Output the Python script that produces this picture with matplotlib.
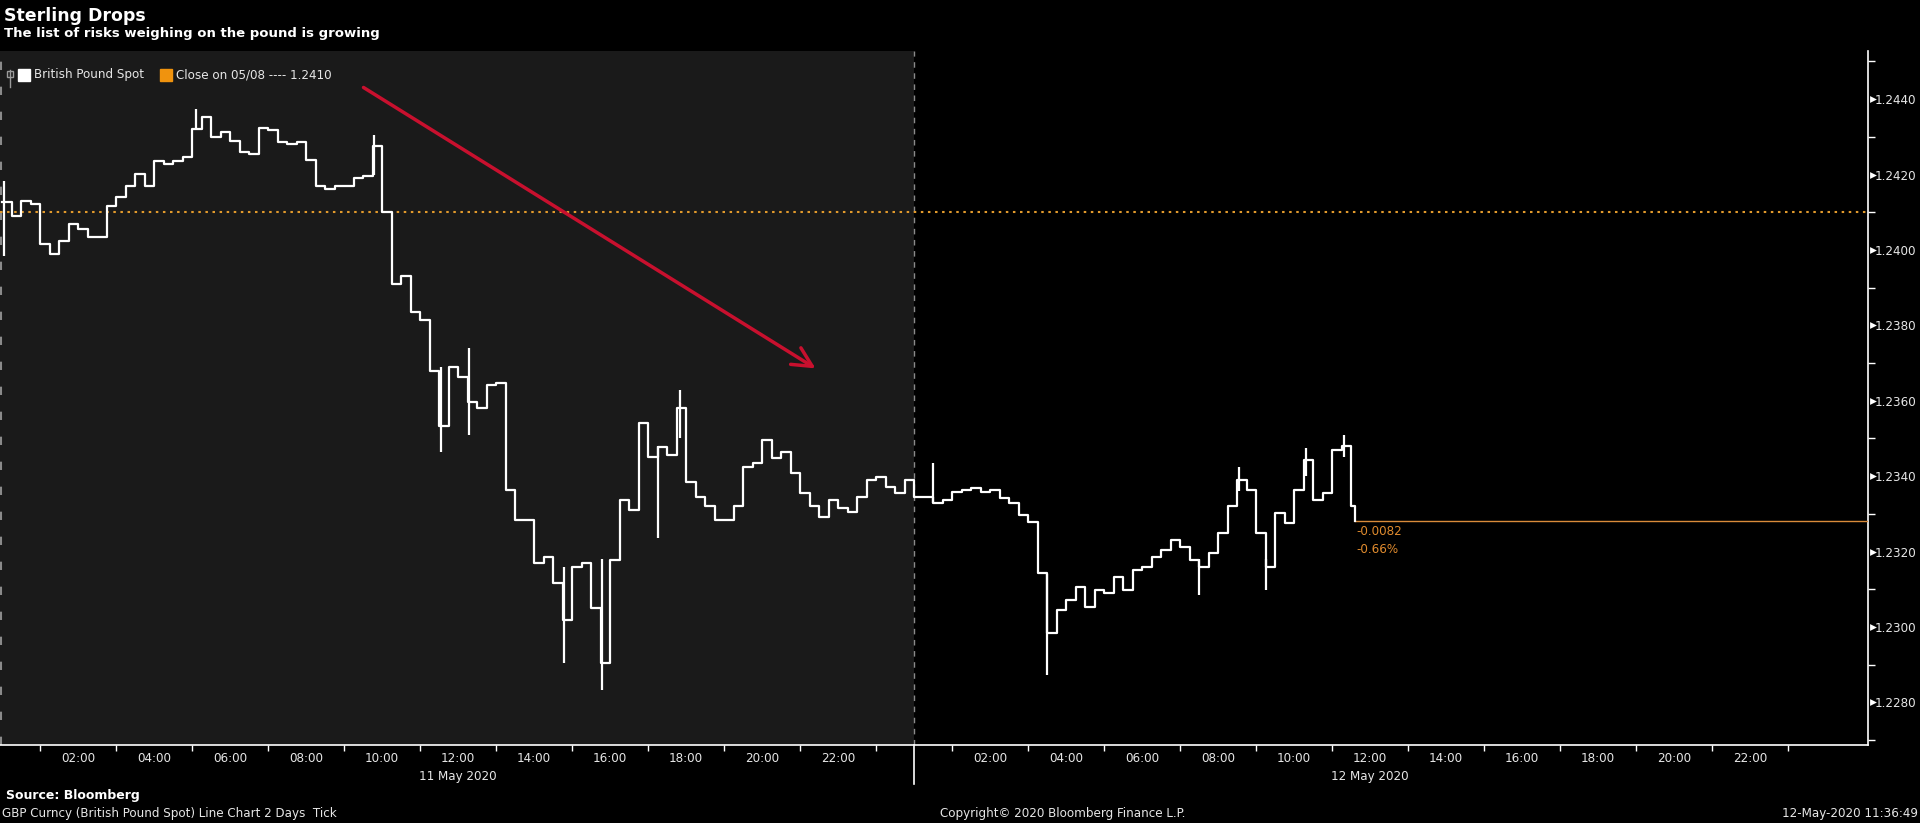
import numpy as np
import matplotlib
matplotlib.use("Agg")
import matplotlib.pyplot as plt
from matplotlib import font_manager
from matplotlib.font_manager import FontProperties
from matplotlib.transforms import blended_transform_factory
from matplotlib.patches import Rectangle, FancyArrowPatch

# ---------------- data ----------------
# 15-minute closes, 11 May 2020 00:00 -> 23:45
day1_close = [
    1.24127, 1.24091, 1.24131, 1.24122, 1.24016, 1.23989, 1.24025, 1.24069,
    1.24056, 1.24034, 1.24034, 1.24118, 1.24140, 1.24171, 1.24202, 1.24171,
    1.24237, 1.24228, 1.24237, 1.24246, 1.24321, 1.24352, 1.24299, 1.24312,
    1.24290, 1.24260, 1.24255, 1.24323, 1.24318, 1.24287, 1.24281, 1.24287,
    1.24239, 1.24171, 1.24161, 1.24171, 1.24171, 1.24192, 1.24197, 1.24276,
    1.24100, 1.23909, 1.23930, 1.23836, 1.23815, 1.23679, 1.23532, 1.23689,
    1.23664, 1.23598, 1.23580, 1.23642, 1.23646, 1.23363, 1.23284, 1.23284,
    1.23169, 1.23186, 1.23116, 1.23019, 1.23160, 1.23169, 1.23050, 1.22904,
    1.23178, 1.23337, 1.23310, 1.23540, 1.23452, 1.23478, 1.23456, 1.23580,
    1.23385, 1.23346, 1.23320, 1.23284, 1.23284, 1.23320, 1.23425, 1.23434,
    1.23496, 1.23447, 1.23465, 1.23408, 1.23355, 1.23320, 1.23292, 1.23337,
    1.23316, 1.23306, 1.23346, 1.23390, 1.23399, 1.23372, 1.23355, 1.23390,
]
# 15-minute closes, 12 May 2020 00:00 -> 11:30
day2_close = [
    1.23346, 1.23346, 1.23328, 1.23337, 1.23359, 1.23364, 1.23368, 1.23359,
    1.23364, 1.23341, 1.23328, 1.23297, 1.23279, 1.23142, 1.22983, 1.23045,
    1.23072, 1.23107, 1.23054, 1.23098, 1.23089, 1.23133, 1.23098, 1.23151,
    1.23160, 1.23186, 1.23204, 1.23231, 1.23213, 1.23178, 1.23160, 1.23195,
    1.23249, 1.23320, 1.23390, 1.23364, 1.23249, 1.23160, 1.23302, 1.23275,
    1.23364, 1.23443, 1.23337, 1.23355, 1.23470, 1.23479, 1.23320,
]
last_time_h = 35.6          # 12 May 11:36 in hours from 11 May 00:00
last_price = 1.2328
prev_close = 1.2410
net_change = "-0.0082"
pct_change = "-0.66%"

# intrabar extremes (hours from 11 May 00:00, low, high)
spike_time = [0.05, 5.1, 9.8, 11.55, 12.3, 14.8, 15.8, 17.25, 17.85, 24.5, 27.5, 31.5, 32.55, 33.25, 34.3, 35.3]
spike_low  = [1.23985, 1.2432, 1.2420, 1.23464, 1.2351, 1.22904, 1.22833, 1.23236, 1.2350, 1.2333, 1.22873, 1.23085, 1.2336, 1.23099, 1.2340, 1.2345]
spike_high = [1.24184, 1.24374, 1.24305, 1.2369, 1.2374, 1.2316, 1.2318, 1.2348, 1.23629, 1.23435, 1.2314, 1.2318, 1.23425, 1.2318, 1.23475, 1.2351]

xtick_labels = ["02:00", "04:00", "06:00", "08:00", "10:00", "12:00",
                "14:00", "16:00", "18:00", "20:00", "22:00"]
date_labels = ["11 May 2020", "12 May 2020"]
ytick_vals = [1.2280, 1.2300, 1.2320, 1.2340, 1.2360, 1.2380, 1.2400, 1.2420, 1.2440]

# ---------------- fonts ----------------
def find_narrow():
    prefs = ["LiberationSansNarrow-Regular", "DejaVuSansCondensed.ttf", "RobotoCondensed-Regular",
             "OpenSans_Condensed-Regular", "OpenSansCondensed", "NotoSans-Condensed",
             "Roboto_Condensed", "Condensed-Regular", "Narrow"]
    files = font_manager.findSystemFonts()
    for p in prefs:
        for f in files:
            base = f.split("/")[-1]
            if p in base and "Bold" not in base and "Italic" not in base and "Oblique" not in base:
                return f
    return None

nf = find_narrow()
if nf:
    NPROP = FontProperties(fname=nf, size=9.5)
else:
    NPROP = FontProperties(family="Liberation Sans", size=9)

def nprop():
    return NPROP.copy()

ORANGE_TXT = "#e08b2e"
TXT = "#e6e6e6"

# ---------------- figure ----------------
fig = plt.figure(figsize=(19.2, 8.23), dpi=100)
fig.patch.set_facecolor("black")
ax = fig.add_axes([0, 0.0948, 0.9729, 0.8433])
ax.set_facecolor("black")

xmin, xmax = -0.053, 49.1
ax.set_xlim(xmin, xmax)
ax.set_ylim(1.22687, 1.24528)

# first day shaded
ax.axvspan(xmin, 24, color="#1a1a1a", zorder=0, lw=0)
ax.axvline(24, color="#8a8a8a", lw=1, ls=(0, (4, 4)), zorder=1)
ax.axvline(xmin + 0.02, color="#8a8a8a", lw=1.5, ls=(0, (4, 8)), zorder=1)

# previous close dotted
ax.axhline(prev_close, color="#e29a2c", lw=1.5, ls=(0, (1.2, 2.2)), zorder=2)

# price series
t1 = np.arange(len(day1_close)) * 0.25
t2 = 24 + np.arange(len(day2_close)) * 0.25
times = np.concatenate([t1, t2, [last_time_h]])
vals = np.concatenate([day1_close, day2_close, [last_price]])
ax.vlines(spike_time, spike_low, spike_high, color="white", lw=1.6, zorder=3)
ax.plot(times, vals, color="white", lw=1.6, drawstyle="steps-post", zorder=4)

# last price line + change text
ax.plot([last_time_h, xmax], [last_price, last_price], color="#d98b3a", lw=1.0, zorder=3)
ax.text(last_time_h + 0.05, last_price - 0.00010, net_change, color=ORANGE_TXT,
        fontproperties=nprop(), va="top", ha="left")
ax.text(last_time_h + 0.05, last_price - 0.00056, pct_change, color=ORANGE_TXT,
        fontproperties=nprop(), va="top", ha="left")

# red arrow
arr = FancyArrowPatch((9.45, 1.24435), (21.47, 1.23682),
                      arrowstyle="->,head_length=0.7,head_width=0.35",
                      color="#c8102e", lw=2.5, zorder=5, mutation_scale=20)
ax.add_patch(arr)

# spines
for s in ["left", "top"]:
    ax.spines[s].set_visible(False)
ax.spines["right"].set_color("white")
ax.spines["bottom"].set_color("white")
ax.spines["right"].set_linewidth(1.2)
ax.spines["bottom"].set_linewidth(1.2)

# x ticks
major_x = [2 * i for i in range(1, 12)] + [24 + 2 * i for i in range(1, 12)]
ax.set_xticks(major_x)
ax.set_xticklabels(xtick_labels + xtick_labels)
ax.set_xticks([2 * i + 1 for i in range(24)], minor=True)
ax.tick_params(axis="x", which="major", length=0, pad=5, colors=TXT)
ax.tick_params(axis="x", which="minor", length=4, width=1, color="white", direction="out")
for lab in ax.get_xticklabels():
    lab.set_fontproperties(nprop())

xb = blended_transform_factory(ax.transData, ax.transAxes)
ax.text(12, -0.036, date_labels[0], transform=xb, ha="center", va="top",
        color=TXT, fontproperties=nprop())
ax.text(36, -0.036, date_labels[1], transform=xb, ha="center", va="top",
        color=TXT, fontproperties=nprop())
ax.plot([24, 24], [0, -0.056], transform=xb, color="white", lw=1.2, clip_on=False)

# y ticks on the right
ax.yaxis.tick_right()
ax.set_yticks(ytick_vals)
ax.set_yticklabels([f"{v:.4f}" for v in ytick_vals])
ax.set_yticks([1.2270 + 0.002 * i for i in range(10)], minor=True)
ax.tick_params(axis="y", which="major", length=0, pad=5, colors=TXT)
ax.tick_params(axis="y", which="minor", length=5, width=1, color="white", direction="out")
for lab in ax.get_yticklabels():
    lab.set_fontproperties(nprop())
yb = blended_transform_factory(ax.transAxes, ax.transData)
ax.scatter([1.0028] * len(ytick_vals), ytick_vals, marker=">", s=24, color="white",
           transform=yb, clip_on=False, zorder=6, linewidths=0)

# legend
ax.add_patch(Rectangle((0.0096, 0.957), 0.0064, 0.0173, transform=ax.transAxes,
                       color="white", zorder=6))
ax.text(0.0182, 0.9655, "British Pound Spot", transform=ax.transAxes, va="center",
        ha="left", color=TXT, fontproperties=nprop())
ax.add_patch(Rectangle((0.0857, 0.957), 0.0064, 0.0173, transform=ax.transAxes,
                       color="#f0930e", zorder=6))
ax.text(0.0942, 0.9655, "Close on 05/08 ---- 1.2410", transform=ax.transAxes, va="center",
        ha="left", color=TXT, fontproperties=nprop())
# small legend handle icon
ax.plot([0.0054, 0.0054], [0.948, 0.972], transform=ax.transAxes, color="#9a9a9a", lw=1)
ax.add_patch(Rectangle((0.0038, 0.962), 0.0032, 0.0085, transform=ax.transAxes,
                       fill=False, edgecolor="#9a9a9a", lw=1, zorder=6))

# titles
fig.text(0.002, 1 - 7 / 823, "Sterling Drops", color="white", fontsize=12.5,
         fontweight="bold", va="top", ha="left", family="DejaVu Sans")
fig.text(0.002, 1 - 27 / 823, "The list of risks weighing on the pound is growing",
         color="white", fontsize=9.5, fontweight="bold", va="top", ha="left", family="DejaVu Sans")

# footer
fig.text(0.003, 1 - 796 / 823, "Source: Bloomberg", color="white", fontsize=9,
         fontweight="bold", va="center", ha="left", family="DejaVu Sans")
fig.text(0.001, 1 - 813 / 823, "GBP Curncy (British Pound Spot) Line Chart 2 Days  Tick",
         color=TXT, va="center", ha="left", fontproperties=nprop())
fig.text(940 / 1920, 1 - 813 / 823, "Copyright\u00a9 2020 Bloomberg Finance L.P.",
         color=TXT, va="center", ha="left", fontproperties=nprop())
fig.text(0.999, 1 - 813 / 823, "12-May-2020 11:36:49",
         color=TXT, va="center", ha="right", fontproperties=nprop())

fig.savefig("out.png", dpi=100, facecolor="black")
